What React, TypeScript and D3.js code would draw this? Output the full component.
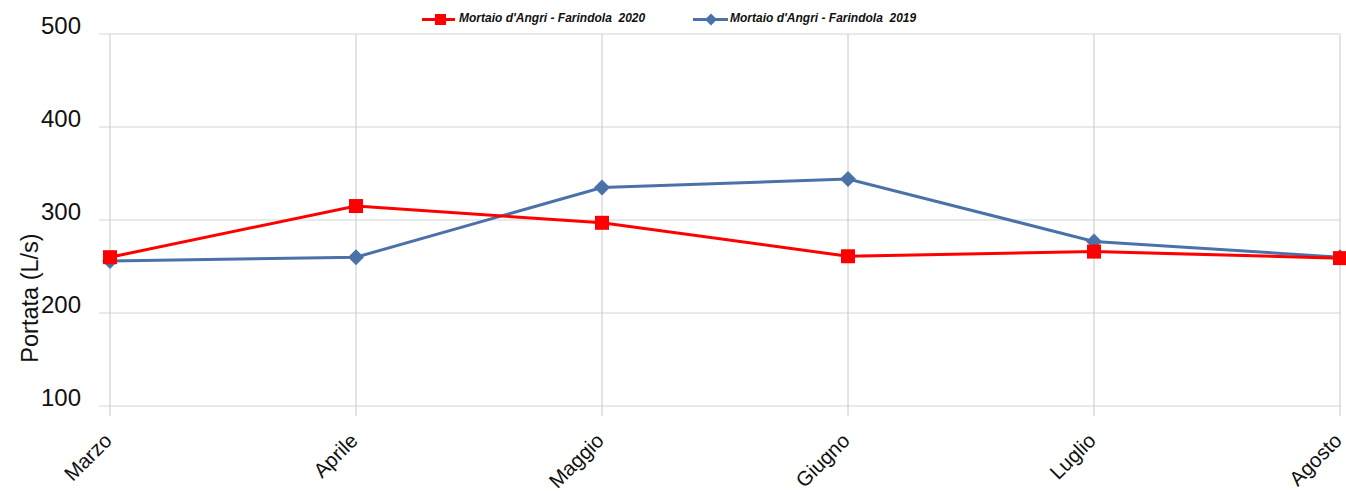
import React from "react";
import * as d3 from "d3";

const months = ["Marzo", "Aprile", "Maggio", "Giugno", "Luglio", "Agosto"];
const series2020 = [260, 315, 297, 261, 266, 259];
const series2019 = [256, 260, 335, 344, 277, 260];
const yTicks = [100, 200, 300, 400, 500];
const label2020 = "Mortaio d'Angri - Farindola  2020";
const label2019 = "Mortaio d'Angri - Farindola  2019";

const W = 1346;
const H = 491;
const left = 110;
const right = 1340;
const top = 34;
const bottom = 406;

export default function App() {
  const x = d3.scalePoint<string>().domain(months).range([left, right]);
  const y = d3.scaleLinear().domain([100, 500]).range([bottom, top]);
  const line = d3
    .line<number>()
    .x((_, i) => x(months[i]) as number)
    .y((d) => y(d));
  const red = "#ff0000";
  const blue = "#4a72a8";
  const font = "'Liberation Sans', Arial, sans-serif";
  return (
    <svg
      width={W}
      height={H}
      style={{ position: "absolute", left: 0, top: 0, background: "#fff" }}
      fontFamily={font}
    >
      {yTicks.map((t) => (
        <g key={t}>
          <line x1={99} x2={right} y1={y(t)} y2={y(t)} stroke="#d4d4d4" strokeWidth={1} />
          <text x={81} y={y(t)} textAnchor="end" fontSize={24} fill="#111">
            {t}
          </text>
        </g>
      ))}
      {months.map((m) => (
        <g key={m}>
          <line x1={x(m)} x2={x(m)} y1={top} y2={bottom + 10} stroke="#c8c8c8" strokeWidth={1} />
          <text
            transform={`translate(${(x(m) as number) + 3},${bottom + 36}) rotate(-45)`}
            textAnchor="end"
            fontSize={20.5}
            fill="#111"
          >
            {m}
          </text>
        </g>
      ))}
      <text
        transform={`translate(38,298) rotate(-90)`}
        textAnchor="middle"
        fontSize={23.5}
        fill="#111"
      >
        Portata (L/s)
      </text>
      <path d={line(series2019) || ""} fill="none" stroke={blue} strokeWidth={3} />
      <path d={line(series2020) || ""} fill="none" stroke={red} strokeWidth={3} />
      {series2019.map((v, i) => (
        <path
          key={"d" + i}
          d="M0,-8L8,0L0,8L-8,0Z"
          transform={`translate(${x(months[i])},${y(v)})`}
          fill={blue}
        />
      ))}
      {series2020.map((v, i) => (
        <rect
          key={"s" + i}
          x={(x(months[i]) as number) - 7}
          y={y(v) - 7}
          width={14}
          height={14}
          fill={red}
        />
      ))}
      <g fontSize={12} fontStyle="italic" fontWeight="bold" fill="#111" style={{ whiteSpace: "pre" }}>
        <line x1={422} x2={455} y1={19.5} y2={19.5} stroke={red} strokeWidth={3} />
        <rect x={435} y={14} width={11} height={11} fill={red} />
        <text x={459} y={22} xmlSpace="preserve">{label2020}</text>
        <line x1={693} x2={728} y1={19.5} y2={19.5} stroke={blue} strokeWidth={3} />
        <path d="M0,-6L6,0L0,6L-6,0Z" transform="translate(711,19.5)" fill={blue} />
        <text x={730} y={22} xmlSpace="preserve">{label2019}</text>
      </g>
    </svg>
  );
}
